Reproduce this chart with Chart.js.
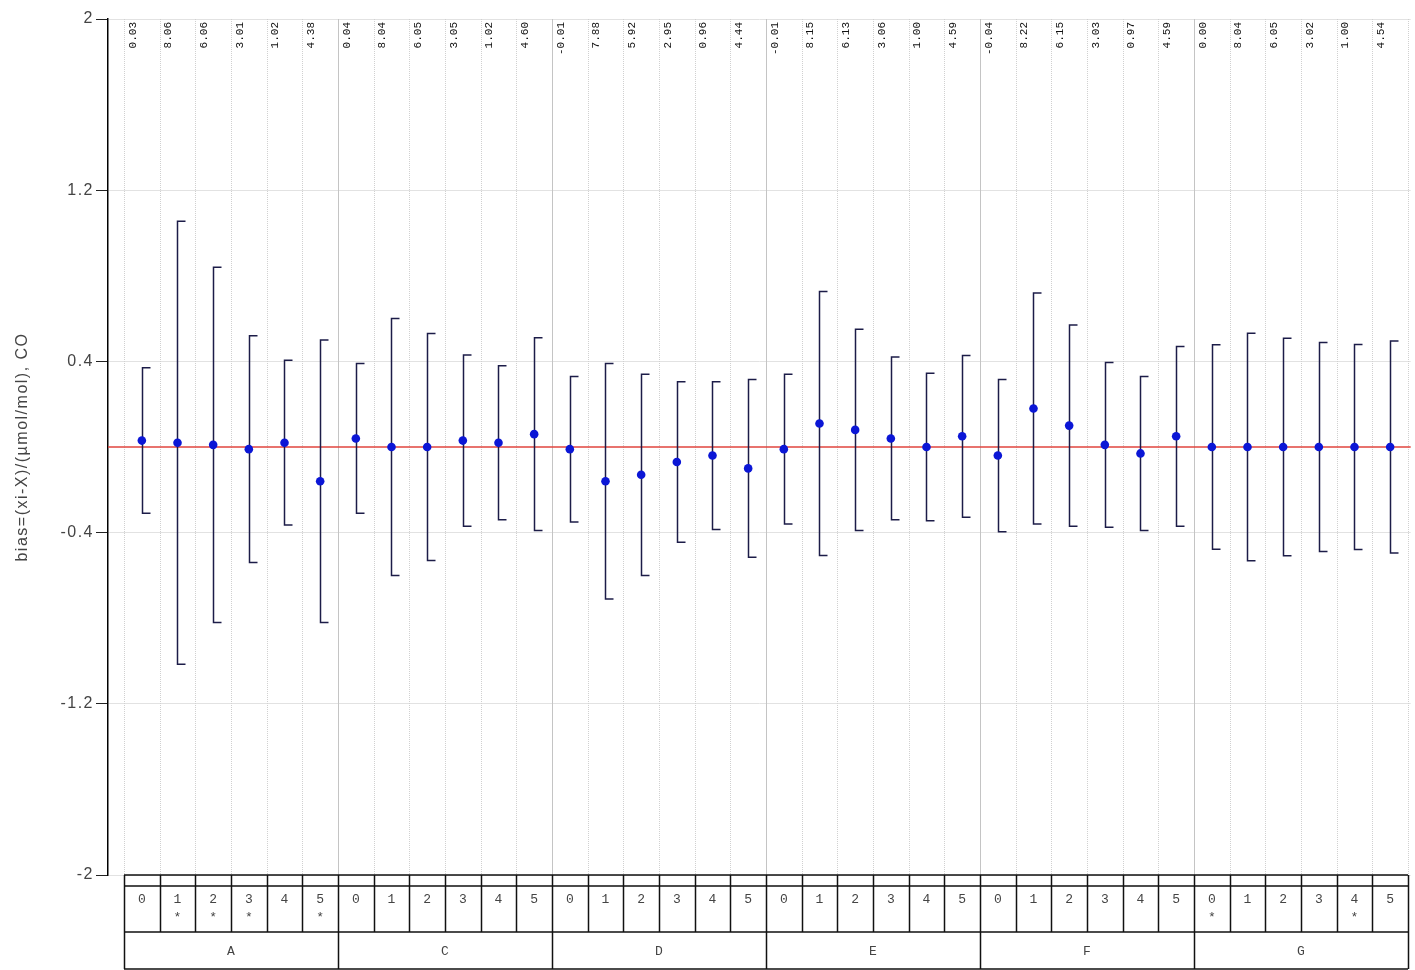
<!DOCTYPE html>
<html>
<head>
<meta charset="utf-8">
<title>bias CO</title>
<script src="https://cdn.jsdelivr.net/npm/chart.js@4.4.0/dist/chart.umd.min.js"></script>
<style>
  html, body { margin: 0; padding: 0; background: #fff; }
  #wrap { width: 1415px; height: 970px; position: relative; }
</style>
</head>
<body>
<div id="wrap"><canvas id="chart"></canvas></div>
<script>
// ================================
// DATA
// ================================
const groups = ["A", "C", "D", "E", "F", "G"];
const levels = ["0", "1", "2", "3", "4", "5"];
// which columns carry a "*" under the level number
const starred = [1, 2, 3, 5, 30, 34];

// values printed on top of each column
const results = [
  "0.03", "8.06", "6.06", "3.01", "1.02", "4.38",
  "0.04", "8.04", "6.05", "3.05", "1.02", "4.60",
  "-0.01", "7.88", "5.92", "2.95", "0.96", "4.44",
  "-0.01", "8.15", "6.13", "3.06", "1.00", "4.59",
  "-0.04", "8.22", "6.15", "3.03", "0.97", "4.59",
  "0.00", "8.04", "6.05", "3.02", "1.00", "4.54"
];

// bias per column
const bias = [
  0.03, 0.02, 0.01, -0.01, 0.02, -0.16,
  0.04, 0.00, 0.00, 0.03, 0.02, 0.06,
  -0.01, -0.16, -0.13, -0.07, -0.04, -0.10,
  -0.01, 0.11, 0.08, 0.04, 0.00, 0.05,
  -0.04, 0.18, 0.10, 0.01, -0.03, 0.05,
  0.00, 0.00, 0.00, 0.00, 0.00, 0.00
];

// expanded uncertainty (half length of the bar)
const uncert = [
  0.34, 1.035, 0.83, 0.53, 0.385, 0.66,
  0.35, 0.60, 0.53, 0.40, 0.36, 0.45,
  0.34, 0.55, 0.47, 0.375, 0.345, 0.415,
  0.35, 0.617, 0.47, 0.38, 0.345, 0.378,
  0.356, 0.54, 0.47, 0.385, 0.36, 0.42,
  0.478, 0.531, 0.508, 0.488, 0.479, 0.495
];

const yTicks = [2, 1.2, 0.4, -0.4, -1.2, -2];

const points = bias.map((b, i) => ({ x: i, y: b }));
const nCols = bias.length;
const perGroup = levels.length;

// ================================
// DRAWING HELPERS (grid, bars, table)
// ================================
const extras = {
  id: "extras",
  beforeDraw(chart) {
    // wide spaced axis text like the original
    chart.ctx.letterSpacing = "1.5px";
  },
  beforeDatasetsDraw(chart) {
    const { ctx, chartArea, scales } = chart;
    const x = scales.x, y = scales.y;
    ctx.letterSpacing = "0px";
    ctx.save();

    // vertical separators
    for (let i = 0; i <= nCols; i++) {
      const px = Math.round(x.getPixelForValue(i - 0.5)) + 0.5;
      const isGroup = i % perGroup === 0 && i > 0 && i < nCols;
      ctx.beginPath();
      if (isGroup) {
        ctx.setLineDash([]);
        ctx.strokeStyle = "#c4c4c4";
      } else {
        ctx.setLineDash([1, 1]);
        ctx.strokeStyle = "#d0d0d0";
      }
      ctx.lineWidth = 1;
      ctx.moveTo(px, chartArea.top);
      ctx.lineTo(px, chartArea.bottom);
      ctx.stroke();
    }
    ctx.setLineDash([]);

    // zero line
    const y0 = y.getPixelForValue(0);
    ctx.beginPath();
    ctx.strokeStyle = "#e0443e";
    ctx.lineWidth = 1.6;
    ctx.moveTo(chartArea.left, y0);
    ctx.lineTo(chartArea.right, y0);
    ctx.stroke();

    // error bars, caps to the right
    ctx.strokeStyle = "#1c1c48";
    ctx.lineWidth = 1.5;
    bias.forEach((b, i) => {
      const px = Math.round(x.getPixelForValue(i)) + 0.5;
      const top = y.getPixelForValue(b + uncert[i]);
      const bot = y.getPixelForValue(b - uncert[i]);
      ctx.beginPath();
      ctx.moveTo(px + 8, top);
      ctx.lineTo(px, top);
      ctx.lineTo(px, bot);
      ctx.lineTo(px + 8, bot);
      ctx.stroke();
    });
    ctx.restore();
  },
  afterDraw(chart) {
    const { ctx, chartArea, scales } = chart;
    const x = scales.x;
    ctx.save();
    ctx.letterSpacing = "0px";

    // rotated values on top
    ctx.fillStyle = "#111";
    ctx.font = '11px "Liberation Mono", monospace';
    ctx.textAlign = "right";
    ctx.textBaseline = "middle";
    results.forEach((t, i) => {
      const px = x.getPixelForValue(i) - 9;
      ctx.save();
      ctx.translate(px, chartArea.top + 3);
      ctx.rotate(-Math.PI / 2);
      ctx.fillText(t, 0, 0);
      ctx.restore();
    });

    // table under the plot
    const left = x.getPixelForValue(-0.5);
    const right = x.getPixelForValue(nCols - 0.5);
    const r0 = chartArea.bottom, r1 = r0 + 11, r2 = r0 + 57, r3 = r0 + 94;
    ctx.strokeStyle = "#111";
    ctx.lineWidth = 1.5;
    ctx.beginPath();
    [r0, r1, r2, r3].forEach(ry => {
      ctx.moveTo(left, ry);
      ctx.lineTo(right, ry);
    });
    for (let i = 0; i <= nCols; i++) {
      const px = Math.round(x.getPixelForValue(i - 0.5)) + 0.5;
      ctx.moveTo(px, r0);
      ctx.lineTo(px, r2);
      if (i % perGroup === 0) {
        ctx.moveTo(px, r2);
        ctx.lineTo(px, r3);
      }
    }
    ctx.stroke();

    ctx.fillStyle = "#444";
    ctx.font = '13px "Liberation Mono", monospace';
    ctx.textAlign = "center";
    ctx.textBaseline = "middle";
    for (let i = 0; i < nCols; i++) {
      const px = x.getPixelForValue(i);
      ctx.fillText(levels[i % perGroup], px, r0 + 25);
      if (starred.includes(i)) ctx.fillText("*", px, r0 + 43);
    }
    groups.forEach((g, k) => {
      const px = x.getPixelForValue(k * perGroup + (perGroup - 1) / 2);
      ctx.fillText(g, px, r0 + 77);
    });
    ctx.restore();
  }
};

// ================================
// CHART
// ================================
new Chart(document.getElementById("chart"), {
  type: "scatter",
  data: {
    datasets: [{
      data: points,
      backgroundColor: "#0b16d6",
      borderWidth: 0,
      pointRadius: 4.3,
      pointHoverRadius: 4.3
    }]
  },
  options: {
    responsive: true,
    maintainAspectRatio: false,
    animation: false,
    layout: { padding: { top: 19, bottom: 95, left: 0, right: 0 } },
    plugins: {
      legend: { display: false },
      tooltip: { enabled: false }
    },
    scales: {
      x: {
        type: "linear",
        display: false,
        min: -0.9486,
        max: 35.576
      },
      y: {
        min: -2,
        max: 2,
        afterBuildTicks: s => { s.ticks = yTicks.map(v => ({ value: v })); },
        afterFit: s => { s.width = 108; s.paddingTop = 0; s.paddingBottom = 0; },
        ticks: {
          color: "#444",
          padding: 2,
          font: { family: '"Liberation Sans", Arial, sans-serif', size: 16 },
          callback: v => String(v)
        },
        grid: { color: "#e2e2e2", tickColor: "#222", tickLength: 12, lineWidth: 1 },
        border: { color: "#000", width: 1.5 },
        title: {
          display: true,
          text: "bias=(xi-X)/(µmol/mol), CO",
          color: "#444",
          font: { family: '"Liberation Sans", Arial, sans-serif', size: 16 },
          padding: { top: 13, bottom: 0 }
        }
      }
    }
  },
  plugins: [extras]
});
</script>
</body>
</html>
